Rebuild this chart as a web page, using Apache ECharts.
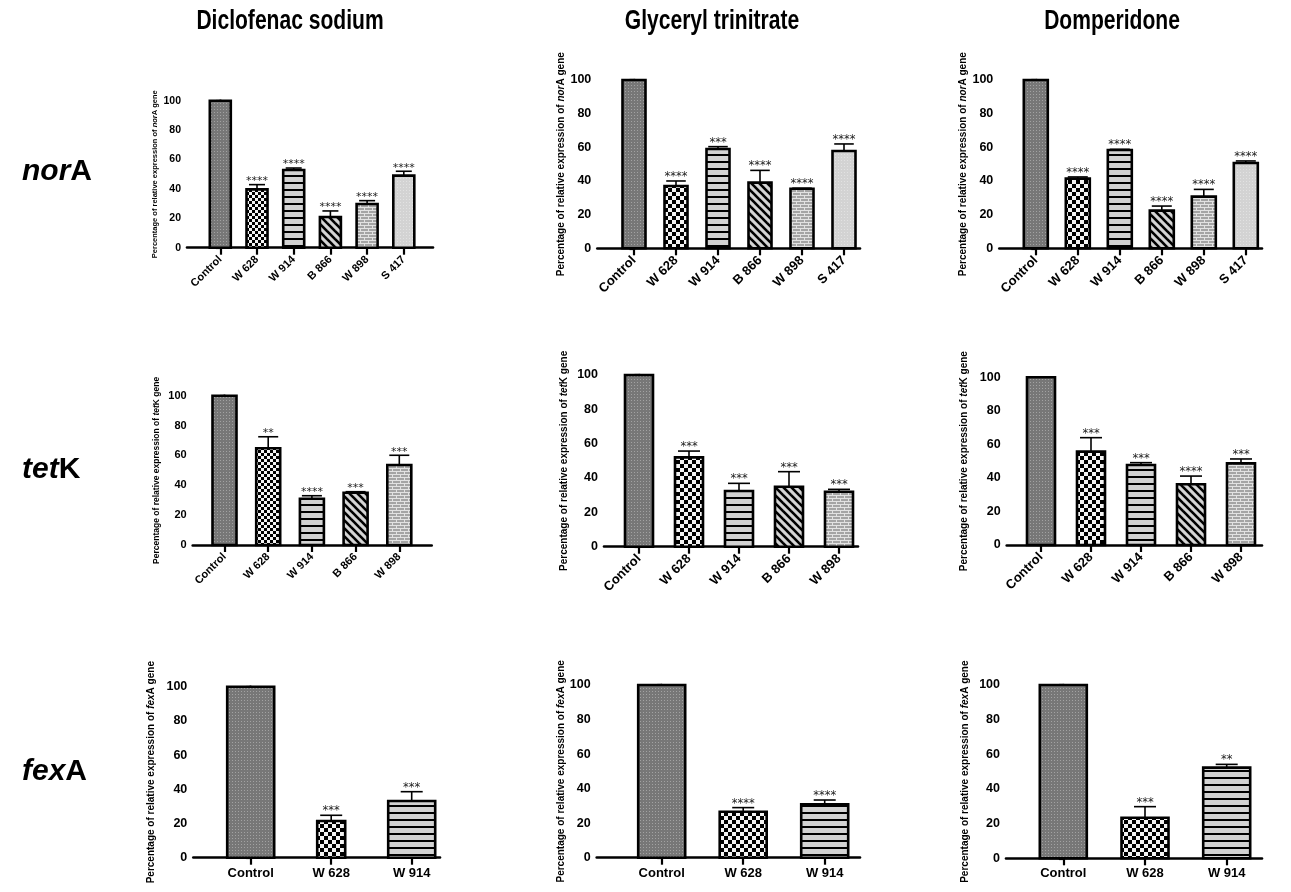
<!DOCTYPE html>
<html><head><meta charset="utf-8">
<script src="https://cdn.jsdelivr.net/npm/echarts@6/dist/echarts.min.js"></script>
<style>html,body{margin:0;padding:0;background:#fff}#c{width:1291px;height:892px}</style>
</head><body><div id="c"></div>
<script>
// ================= DATA =================
const drugs = ['Diclofenac sodium', 'Glyceryl trinitrate', 'Domperidone'];
const genes = ['norA', 'tetK', 'fexA'];
const geneItalic = ['nor', 'tet', 'fex'];
const geneUpright = ['A', 'K', 'A'];
const norACats = ['Control', 'W 628', 'W 914', 'B 866', 'W 898', 'S 417'];
const tetKCats = ['Control', 'W 628', 'W 914', 'B 866', 'W 898'];
const fexACats = ['Control', 'W 628', 'W 914'];
const yTickValues = [0, 20, 40, 60, 80, 100];

// Diclofenac sodium
const dsNorA = [100, 39.7, 52.9, 20.9, 29.7, 49.0];
const dsNorAErr = [0, 3.2, 1.3, 4.1, 2.3, 3.0];
const dsNorAStars = ['', '****', '****', '****', '****', '****'];
const dsTetK = [100, 64.8, 31.0, 35.0, 53.6];
const dsTetKErr = [0, 7.7, 2.0, 0.7, 6.5];
const dsTetKStars = ['', '**', '****', '***', '***'];
const dsFexA = [100, 21.5, 33.2];
const dsFexAErr = [0, 3.3, 5.4];
const dsFexAStars = ['', '***', '***'];

// Glyceryl trinitrate
const gtNorA = [100, 37.0, 59.0, 39.0, 35.4, 57.8];
const gtNorAErr = [0, 3.0, 1.4, 7.3, 0.3, 4.2];
const gtNorAStars = ['', '****', '***', '****', '****', '****'];
const gtTetK = [100, 52.0, 32.4, 34.9, 32.0];
const gtTetKErr = [0, 3.7, 4.5, 8.8, 1.4];
const gtTetKStars = ['', '***', '***', '***', '***'];
const gtFexA = [100, 26.6, 30.9];
const gtFexAErr = [0, 2.4, 2.5];
const gtFexAStars = ['', '****', '****'];

// Domperidone
const doNorA = [100, 41.4, 58.4, 22.4, 30.7, 50.7];
const doNorAErr = [0, 1.0, 0.4, 2.7, 4.3, 1.2];
const doNorAStars = ['', '****', '****', '****', '****', '****'];
const doTetK = [100, 55.7, 47.7, 36.2, 48.7];
const doTetKErr = [0, 8.3, 1.4, 4.9, 2.6];
const doTetKStars = ['', '***', '***', '****', '***'];
const doFexA = [100, 23.4, 52.3];
const doFexAErr = [0, 6.4, 1.9];
const doFexAStars = ['', '***', '**'];

// panels[row][col]
const panels = [
  [ {cats: norACats, v: dsNorA, e: dsNorAErr, s: dsNorAStars},
    {cats: norACats, v: gtNorA, e: gtNorAErr, s: gtNorAStars},
    {cats: norACats, v: doNorA, e: doNorAErr, s: doNorAStars} ],
  [ {cats: tetKCats, v: dsTetK, e: dsTetKErr, s: dsTetKStars},
    {cats: tetKCats, v: gtTetK, e: gtTetKErr, s: gtTetKStars},
    {cats: tetKCats, v: doTetK, e: doTetKErr, s: doTetKStars} ],
  [ {cats: fexACats, v: dsFexA, e: dsFexAErr, s: dsFexAStars},
    {cats: fexACats, v: gtFexA, e: gtFexAErr, s: gtFexAStars},
    {cats: fexACats, v: doFexA, e: doFexAErr, s: doFexAStars} ]
];

// ================= LAYOUT / STYLE =================
const FONT = "'Liberation Sans', Arial, Helvetica, sans-serif";
const LAYOUT = [
  [ {L:187, R:433, T:100.7, B:247.7, first:220.3, step:36.7, barW:21, cap:16, tick:10.5, xl:11, name:7.5, gap:28, star:11, rot:45, cell:3},
    {L:597.3, R:860, T:80, B:248.3, first:634, step:42, barW:23, cap:20, tick:12.5, xl:13, name:10, gap:30, star:11.5, rot:45, cell:4},
    {L:999.3, R:1262, T:80, B:248.3, first:1035.8, step:42, barW:24, cap:20, tick:12.5, xl:13, name:10, gap:30, star:11.5, rot:45, cell:4} ],
  [ {L:192.7, R:431.7, T:395.7, B:545, first:224.5, step:43.7, barW:24, cap:20, tick:11, xl:11, name:8.5, gap:32, star:11, rot:45, cell:3},
    {L:604, R:858, T:375, B:546.7, first:639, step:50, barW:28, cap:22, tick:12.5, xl:13, name:10, gap:35, star:11.5, rot:45, cell:4},
    {L:1006.7, R:1262, T:377.3, B:545, first:1041, step:50, barW:28, cap:22, tick:12.5, xl:13, name:10, gap:37, star:11.5, rot:45, cell:4} ],
  [ {L:193.3, R:440, T:686.7, B:857.7, first:250.7, step:80.5, barW:47, cap:22, tick:12.5, xl:13, name:10, gap:37, star:11.5, rot:0, cell:4, narrow:{1:28}},
    {L:596.7, R:860, T:685, B:857.7, first:661.7, step:81.5, barW:47, cap:22, tick:12.5, xl:13, name:10, gap:28, star:11.5, rot:0, cell:4},
    {L:1006, R:1262, T:685, B:858.3, first:1063.3, step:81.7, barW:47, cap:22, tick:12.5, xl:13, name:10, gap:36, star:11.5, rot:0, cell:4} ]
];
const titleX = [290, 712, 1112];
const rowLabelY = [172, 470, 772];

// ---------- patterns ----------
const cache = {};
function mk(w, h, draw) { const c = document.createElement('canvas'); c.width = w; c.height = h; draw(c.getContext('2d'), w, h); return c; }
function pattern(cat, cell) {
  const key = cat + cell;
  if (cache[key]) return cache[key];
  let cv;
  if (cat === 'Control') cv = mk(3, 3, (g) => { g.fillStyle = '#777'; g.fillRect(0,0,3,3); g.fillStyle = '#a2a2a2'; g.fillRect(1,1,1,1); });
  else if (cat === 'W 628') cv = mk(2*cell, 2*cell, (g) => { g.fillStyle = '#f4f4f4'; g.fillRect(0,0,2*cell,2*cell); g.fillStyle = '#000'; g.fillRect(0,0,cell,cell); g.fillRect(cell,cell,cell,cell); });
  else if (cat === 'W 914') cv = mk(4, 7, (g) => { g.fillStyle = '#d2d2d2'; g.fillRect(0,0,4,7); g.fillStyle = '#000'; g.fillRect(0,0,4,2); });
  else if (cat === 'B 866') cv = mk(8, 8, (g) => { g.fillStyle = '#d4d4d4'; g.fillRect(0,0,8,8); g.strokeStyle = '#000'; g.lineWidth = 2.6; [-8,0,8].forEach(o => { g.beginPath(); g.moveTo(o-1,-1); g.lineTo(o+9,9); g.stroke(); }); });
  else if (cat === 'W 898') cv = mk(8, 6, (g) => { g.fillStyle = '#a4a4a4'; g.fillRect(0,0,8,6); g.fillStyle = '#e2e2e2'; g.fillRect(0,0,8,1); g.fillRect(0,3,8,1); g.fillRect(0,1,1,2); g.fillRect(4,4,1,2); });
  else cv = mk(3, 3, (g) => { g.fillStyle = '#d3d3d3'; g.fillRect(0,0,3,3); g.fillStyle = '#e2e2e2'; g.fillRect(1,1,1,1); });
  cache[key] = {image: cv, repeat: 'repeat'};
  return cache[key];
}

// ================= BUILD OPTION =================
const grids = [], xAxes = [], yAxes = [], series = [];
panels.forEach((row, r) => row.forEach((p, c) => {
  const lay = LAYOUT[r][c];
  const idx = grids.length;
  grids.push({left: lay.L, top: lay.T, width: lay.R - lay.L, height: lay.B - lay.T});
  const idxs = p.cats.map((_, i) => i);
  xAxes.push({
    type: 'value', gridIndex: idx,
    min: -(lay.first - lay.L) / lay.step,
    max: (lay.R - lay.first) / lay.step,
    splitLine: {show: false},
    axisLine: {show: true, onZero: false, lineStyle: {color: '#000', width: 2.6}},
    axisTick: {show: true, customValues: idxs, length: 7, lineStyle: {color: '#000', width: 2.2}},
    axisLabel: {show: true, customValues: idxs, rotate: lay.rot, margin: lay.rot ? 10 : 9,
      formatter: (v) => p.cats[Math.round(v)] || '',
      color: '#000', fontWeight: 'bold', fontSize: lay.xl, fontFamily: FONT}
  });
  yAxes.push({
    type: 'value', gridIndex: idx, min: 0, max: 100, interval: 20,
    splitLine: {show: false},
    axisLine: {show: true, lineStyle: {color: '#000', width: 2.6}},
    axisTick: {show: true, length: 4.5, lineStyle: {color: '#000', width: 2.2}},
    axisLabel: {color: '#000', fontWeight: 'bold', fontSize: lay.tick, fontFamily: FONT, margin: 6,
      customValues: yTickValues},
    name: 'Percentage of relative expression of {i|' + geneItalic[r] + '}' + geneUpright[r] + ' gene',
    nameLocation: 'middle', nameGap: lay.gap,
    nameTextStyle: {color: '#000', fontWeight: 'bold', fontSize: lay.name, fontFamily: FONT,
      rich: {i: {fontStyle: 'italic', fontWeight: 'bold', fontSize: lay.name, fontFamily: FONT, color: '#000'}}}
  });
  const data = p.v.map((val, i) => [i, val, p.e[i]]);
  series.push({
    type: 'custom', xAxisIndex: idx, yAxisIndex: idx,
    dimensions: ['x', 'y', 'err'], encode: {x: 0, y: 1},
    data: data,
    renderItem: function (params, api) {
      const i = api.value(0), v = api.value(1), e = api.value(2);
      const top = api.coord([i, v]);
      const base = api.coord([i, 0]);
      const et = api.coord([i, v + e]);
      const cat = p.cats[params.dataIndex];
      const w = (lay.narrow && lay.narrow[params.dataIndex]) || lay.barW;
      const cw = Math.min(lay.cap, w * 0.85);
      const ch = [{type: 'rect', shape: {x: top[0] - w / 2, y: top[1], width: w, height: base[1] - top[1]},
        style: {fill: pattern(cat, lay.cell), stroke: '#000', lineWidth: 2.6}}];
      if (e > 0) {
        ch.push({type: 'line', shape: {x1: top[0], y1: top[1], x2: top[0], y2: et[1]}, style: {stroke: '#000', lineWidth: 1.6}});
        ch.push({type: 'line', shape: {x1: top[0] - cw / 2, y1: et[1], x2: top[0] + cw / 2, y2: et[1]}, style: {stroke: '#000', lineWidth: 1.6}});
      }
      const st = p.s[params.dataIndex];
      if (st) ch.push({type: 'text', x: top[0], y: et[1] + 2,
        style: {text: st, align: 'center', verticalAlign: 'bottom', textAlign: 'center', textVerticalAlign: 'bottom',
          font: lay.star + "px 'DejaVu Sans', sans-serif", fill: '#222'}});
      return {type: 'group', children: ch};
    }
  });
}));

const graphic = [];
drugs.forEach((d, c) => graphic.push({
  type: 'text', x: titleX[c], y: 22, scaleX: 0.78,
  style: {text: d, align: 'center', verticalAlign: 'middle', textAlign: 'center', textVerticalAlign: 'middle',
    font: "bold 27px " + FONT, fill: '#000'}
}));
genes.forEach((g, r) => graphic.push({
  type: 'text', x: 22, y: rowLabelY[r],
  style: {text: '{a|' + geneItalic[r] + '}{b|' + geneUpright[r] + '}', align: 'left', verticalAlign: 'middle',
    textAlign: 'left', textVerticalAlign: 'middle',
    rich: {a: {fontStyle: 'italic', fontWeight: 'bold', fontSize: 30, fontFamily: FONT, fill: '#000', color: '#000'},
           b: {fontWeight: 'bold', fontSize: 30, fontFamily: FONT, fill: '#000', color: '#000'}}}
}));

const chart = echarts.init(document.getElementById('c'), null, {renderer: 'canvas'});
chart.setOption({
  animation: false,
  backgroundColor: '#fff',
  grid: grids, xAxis: xAxes, yAxis: yAxes, series: series, graphic: graphic
});
</script></body></html>
